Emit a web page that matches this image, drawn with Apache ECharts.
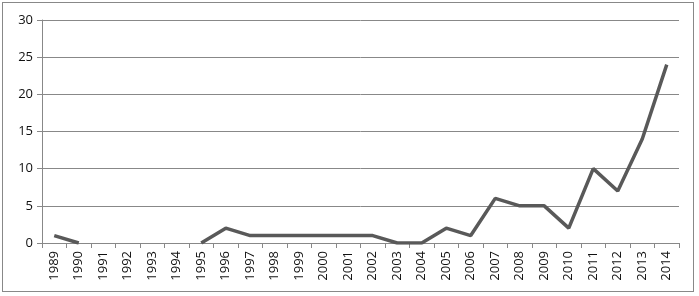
<!DOCTYPE html>
<html><head><meta charset="utf-8">
<script src="https://cdn.jsdelivr.net/npm/echarts@6/dist/echarts.min.js"></script>
<style>
html,body{margin:0;padding:0;background:#fff;}
#frame{position:absolute;left:2px;top:2px;width:692px;height:290px;border:1px solid #888;box-sizing:border-box;}
#c{position:absolute;left:0;top:0;width:699px;height:296px;}
</style></head><body>
<div id="frame"></div>
<div id="c"></div>
<script>
var years = ['1989','1990','1991','1992','1993','1994','1995','1996','1997','1998','1999','2000','2001','2002','2003','2004','2005','2006','2007','2008','2009','2010','2011','2012','2013','2014'];
var values = [1,0,null,null,null,null,0,2,1,1,1,1,1,1,0,0,2,1,6,5,5,2,10,7,14,24];
var yTicks = [0,5,10,15,20,25,30];
var chart = echarts.init(document.getElementById('c'));
chart.setOption({
  animation:false,
  grid:{left:42,right:20,top:20,bottom:53,containLabel:false},
  xAxis:{type:'category',data:years,boundaryGap:true,
    axisLine:{lineStyle:{color:'#888',width:1}},
    axisTick:{show:true,length:5,lineStyle:{color:'#888'}},
    axisLabel:{rotate:90,interval:0,color:'#111',fontFamily:'Open Sans',fontSize:13,margin:8},
    splitLine:{show:false}},
  yAxis:{type:'value',min:yTicks[0],max:yTicks[yTicks.length-1],interval:5,
    axisLine:{show:true,lineStyle:{color:'#888',width:1}},
    axisTick:{show:true,length:5,lineStyle:{color:'#888'}},
    axisLabel:{color:'#111',fontFamily:'Open Sans',fontSize:13,margin:9},
    splitLine:{lineStyle:{color:'#888',width:1}}},
  series:[{type:'line',data:values,connectNulls:false,symbol:'none',
    lineStyle:{color:'#595959',width:3.5}}]
});
</script>
</body></html>
